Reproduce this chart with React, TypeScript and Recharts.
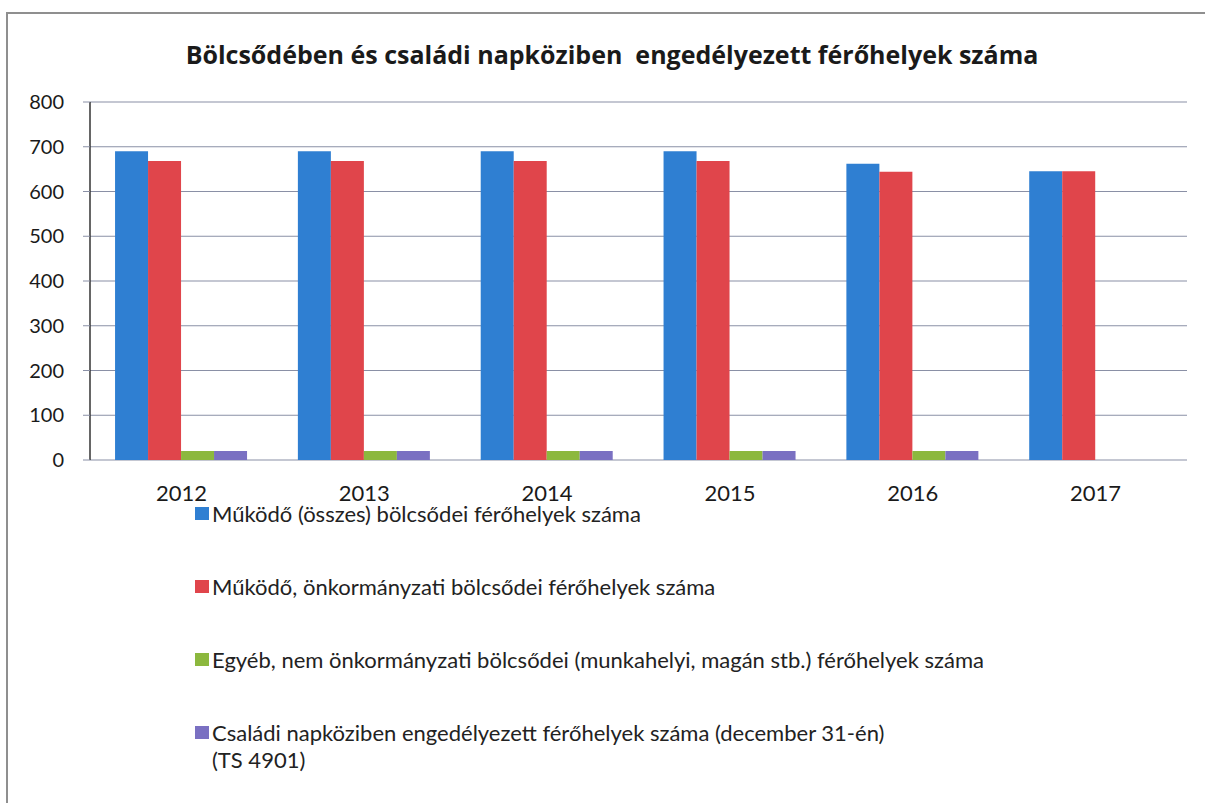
import React from "react";
import { BarChart, Bar, XAxis, YAxis, CartesianGrid, Legend } from "recharts";

const years = ["2012", "2013", "2014", "2015", "2016", "2017"];
const osszes = [690, 690, 690, 690, 662, 645];
const onkormanyzati = [668, 668, 668, 668, 644, 645];
const egyeb = [20, 20, 20, 20, 20, 0];
const csaladi = [20, 20, 20, 20, 20, 0];
const yTicks = [0, 100, 200, 300, 400, 500, 600, 700, 800];
const boundaryTicks = [0, 1, 2, 3, 4, 5, 6];

const seriesNames = [
  "Működő (összes) bölcsődei férőhelyek száma",
  "Működő, önkormányzati bölcsődei férőhelyek száma",
  "Egyéb, nem önkormányzati bölcsődei (munkahelyi, magán stb.) férőhelyek száma",
  "Családi napköziben engedélyezett férőhelyek száma (december 31-én) (TS 4901)",
];
const seriesColors = ["#2f7fd2", "#e0454b", "#8cb83e", "#7a70c2"];
const title = "Bölcsődében és családi napköziben  engedélyezett férőhelyek száma";

const data = years.map((y, i) => ({
  year: y,
  s0: osszes[i],
  s1: onkormanyzati[i],
  s2: egyeb[i],
  s3: csaladi[i],
}));

const FONT = "Lato, 'Noto Sans', sans-serif";
const GRID = "#8a90a6";

const LegendContent = () => (
  <div style={{ fontFamily: FONT, fontSize: 22, color: "#222" }}>
    {seriesNames.map((n, i) => (
      <div
        key={n}
        style={{
          display: "flex",
          alignItems: "flex-start",
          height: 73,
        }}
      >
        <div
          style={{
            width: 14,
            height: 13,
            background: seriesColors[i],
            marginTop: 7,
            marginRight: 3,
            flex: "none",
          }}
        />
        <div style={{ width: i === 3 ? 690 : 950, lineHeight: "27px" }}>{n}</div>
      </div>
    ))}
  </div>
);

export default function App() {
  return (
    <div
      style={{
        position: "absolute",
        left: 0,
        top: 0,
        width: 1205,
        height: 803,
        background: "#fff",
        overflow: "hidden",
      }}
    >
      <div
        style={{
          position: "absolute",
          left: 6,
          top: 12,
          width: 1210,
          height: 800,
          borderLeft: "2px solid #8f8f8f",
          borderTop: "2px solid #8f8f8f",
          boxSizing: "border-box",
        }}
      />
      <div
        style={{
          position: "absolute",
          left: 0,
          top: 37,
          width: 1224,
          textAlign: "center",
          fontFamily: "'Open Sans', Lato, sans-serif",
          fontWeight: 700,
          fontSize: 25,
          color: "#1a1a1a",
          whiteSpace: "pre",
        }}
      >
        {title}
      </div>
      <BarChart
        width={1205}
        height={803}
        data={data}
        margin={{ top: 102, right: 18, left: 0, bottom: 303 }}
        barCategoryGap="13.7%"
        barGap={0}
        style={{ position: "absolute", left: 0, top: 0 }}
      >
        <CartesianGrid vertical={false} stroke={GRID} strokeWidth={1.2} />
        <XAxis
          xAxisId="b"
          type="number"
          domain={[0, 6]}
          ticks={boundaryTicks}
          allowDataOverflow
          height={0}
          stroke={GRID}
          strokeWidth={1.5}
          tickSize={8}
          tickFormatter={() => ""}
        />
        <XAxis
          dataKey="year"
          height={40}
          axisLine={false}
          tickLine={false}
          tickSize={0}
          tickMargin={25}
          tick={{ fill: "#1a1a1a", fontSize: 22, fontFamily: FONT }}
          interval={0}
        />
        <YAxis
          width={90}
          domain={[0, 800]}
          ticks={yTicks}
          interval={0}
          axisLine={{ stroke: "#333", strokeWidth: 1.5 }}
          tickLine={{ stroke: GRID }}
          tickSize={7}
          tickMargin={19}
          tick={{ fill: "#1a1a1a", fontSize: 20, fontFamily: FONT }}
        />
        <Legend
          layout="horizontal"
          verticalAlign="middle"
          align="center"
          content={LegendContent}
          wrapperStyle={{ position: "absolute", left: 195, top: 500, width: 1000, height: 300 }}
        />
        {seriesNames.map((n, i) => (
          <Bar
            key={n}
            dataKey={`s${i}`}
            name={n}
            fill={seriesColors[i]}
            isAnimationActive={false}
          />
        ))}
      </BarChart>
    </div>
  );
}
